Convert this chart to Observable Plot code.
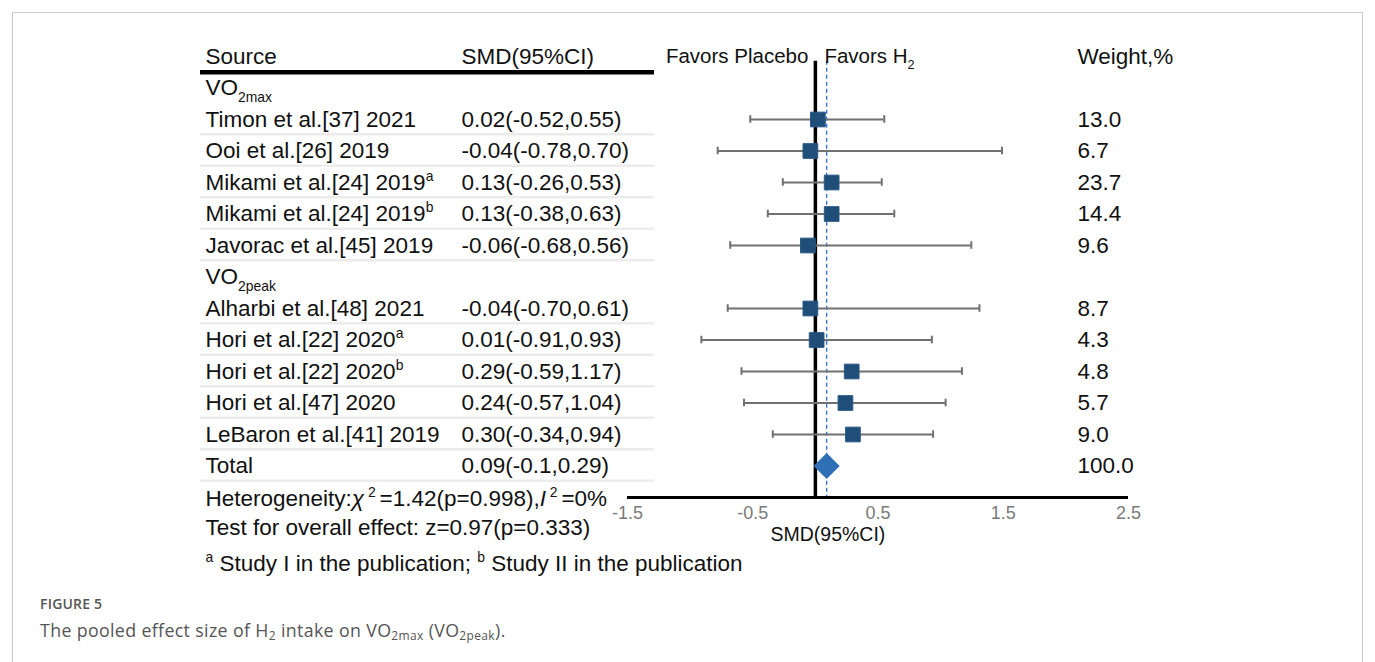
<!DOCTYPE html>
<html><head><meta charset="utf-8">
<script src="https://cdn.jsdelivr.net/npm/d3@7"></script>
<script src="https://cdn.jsdelivr.net/npm/@observablehq/plot@0.6"></script>
<style>
body{margin:0;background:#fff;width:1375px;height:662px;overflow:hidden;position:relative;font-family:"Liberation Sans",Arial,sans-serif}
#frame{position:absolute;left:12px;top:12px;width:1349px;height:700px;border:1px solid #c9c9c9;}
#chart{position:absolute;left:0;top:0}
#fig{position:absolute;left:40px;top:594px;font-family:"Open Sans";font-size:14px;font-weight:600;color:#555;letter-spacing:0.2px}
#cap{position:absolute;left:40px;top:618px;font-family:"Open Sans";font-size:17.8px;color:#555;letter-spacing:0.35px}
#cap sub{font-size:12px;vertical-align:-3px;line-height:0}
</style></head><body>
<div id="frame"></div>
<div id="chart"></div>
<div id="fig">FIGURE 5</div>
<div id="cap">The pooled effect size of H<sub>2</sub> intake on VO<sub>2max</sub> (VO<sub>2peak</sub>).</div>
<script>
// ---- data ----
const groupLabels = ["VO_{2max}", "VO_{2peak}"];
const groupOf = [0, 0, 0, 0, 0, 1, 1, 1, 1, 1];
const studies = ["Timon et al.[37] 2021", "Ooi et al.[26] 2019", "Mikami et al.[24] 2019^{a}", "Mikami et al.[24] 2019^{b}", "Javorac et al.[45] 2019",
  "Alharbi et al.[48] 2021", "Hori et al.[22] 2020^{a}", "Hori et al.[22] 2020^{b}", "Hori et al.[47] 2020", "LeBaron et al.[41] 2019"];
const smd   = [0.02, -0.04, 0.13, 0.13, -0.06, -0.04, 0.01, 0.29, 0.24, 0.30];
const lower = [-0.52, -0.78, -0.26, -0.38, -0.68, -0.70, -0.91, -0.59, -0.57, -0.34];
const upper = [0.55, 0.70, 0.53, 0.63, 0.56, 0.61, 0.93, 1.17, 1.04, 0.94];
// right whisker ends as drawn in the figure
const drawnUpper = [0.55, 1.49, 0.53, 0.63, 1.245, 1.31, 0.93, 1.17, 1.04, 0.94];
const weights = [13.0, 6.7, 23.7, 14.4, 9.6, 8.7, 4.3, 4.8, 5.7, 9.0];
const totalSmd = 0.09, totalLabel = "0.09(-0.1,0.29)", totalWeight = 100.0;
const heterogeneity = "Heterogeneity:*χ*^{ 2 }=1.42(p=0.998),*I*^{ 2 }=0%";
const overall = "Test for overall effect: z=0.97(p=0.333)";
const footnote = "^{a} Study I in the publication; ^{b} Study II in the publication";
const headers = ["Source", "SMD(95%CI)", "Weight,%"];
const favors = ["Favors Placebo", "Favors H_{2}"];
const xTicks = [-1.5, -0.5, 0.5, 1.5, 2.5];
const xLabel = "SMD(95%CI)";

// ---- layout ----
const W = 1375, H = 590;
const X0 = 627, X1 = 1128;
const pxToX = px => -1.5 + (px - X0) * 4 / (X1 - X0);
const colSource = pxToX(205), colSmd = pxToX(461), colWeight = pxToX(1077);
const tableL = pxToX(200), tableR = pxToX(654);

// build rows
const rows = [];
let r = 1;
groupLabels.forEach((g, gi) => {
  rows.push({row: r++, type: "group", source: g});
  studies.forEach((s, i) => {
    if (groupOf[i] !== gi) return;
    rows.push({row: r++, type: "study", source: s, smd: smd[i], lo: lower[i], hi: drawnUpper[i],
      ci: `${smd[i].toFixed(2)}(${lower[i].toFixed(2)},${upper[i].toFixed(2)})`, w: weights[i].toFixed(1)});
  });
});
const totalRow = {row: r, type: "total", source: "Total", smd: totalSmd, ci: totalLabel, w: totalWeight.toFixed(1)};
rows.push(totalRow);
const studyRows = rows.filter(d => d.type === "study");
const sepRows = rows.filter(d => d.type !== "group");
const axisRow = totalRow.row + 1;

const font = '"Liberation Sans", Arial, sans-serif';
const fs = 22.5;

const plot = Plot.plot({
  width: W, height: H,
  marginLeft: X0, marginRight: W - X1, marginTop: 56, marginBottom: 30,
  x: {domain: [-1.5, 2.5], axis: null},
  y: {domain: [0, 16], reverse: true, axis: null},
  style: {fontFamily: font, background: "transparent", overflow: "visible"},
  marks: [
    // faint row separators
    Plot.ruleY(sepRows, {y: d => d.row + 0.47, x1: tableL, x2: tableR, stroke: "#ececec", strokeWidth: 2.5}),
    // header underline
    Plot.ruleY([0.5], {x1: tableL, x2: tableR, stroke: "#000", strokeWidth: 4.5}),
    // zero line
    Plot.ruleX([0], {y1: 0.15, y2: axisRow, stroke: "#000", strokeWidth: 3.5}),
    // pooled dashed line
    Plot.ruleX([totalSmd], {y1: 0.15, y2: axisRow, stroke: "#3574d4", strokeWidth: 1.4, strokeDasharray: "4,3"}),
    // axis line
    Plot.ruleY([axisRow], {x1: -1.5, x2: 2.5, stroke: "#000", strokeWidth: 3}),
    // whiskers
    Plot.ruleY(studyRows, {y: "row", x1: "lo", x2: "hi", stroke: "#717171", strokeWidth: 2}),
    Plot.ruleX(studyRows, {x: "lo", y1: d => d.row - 0.12, y2: d => d.row + 0.12, stroke: "#717171", strokeWidth: 2}),
    Plot.ruleX(studyRows, {x: "hi", y1: d => d.row - 0.12, y2: d => d.row + 0.12, stroke: "#717171", strokeWidth: 2}),
    // squares
    Plot.dot(studyRows, {x: "smd", y: "row", symbol: "square", r: 8.3, fill: "#1f4e79", stroke: "#2c5987", strokeWidth: 1}),
    // total diamond
    Plot.dot([totalRow], {x: "smd", y: "row", symbol: "diamond2", r: 10.8, fill: "#2f6fb6", stroke: "#2f6fb6"}),
    // header texts
    Plot.text([headers[0]], {x: colSource, y: 0, text: d => d, textAnchor: "start", fontSize: fs, fill: "#111"}),
    Plot.text([headers[1]], {x: colSmd, y: 0, text: d => d, textAnchor: "start", fontSize: fs, fill: "#111"}),
    Plot.text([headers[2]], {x: colWeight, y: 0, text: d => d, textAnchor: "start", fontSize: fs, fill: "#111"}),
    Plot.text([favors[0]], {x: 0, y: 0, dx: -7, text: d => d, textAnchor: "end", fontSize: 20.5, fill: "#111"}),
    Plot.text([favors[1]], {x: 0, y: 0, dx: 9, text: d => d, textAnchor: "start", fontSize: 20.5, fill: "#111"}),
    // table columns
    Plot.text(rows, {x: colSource, y: "row", text: "source", textAnchor: "start", fontSize: fs, fill: "#111"}),
    Plot.text(rows.filter(d => d.ci), {x: colSmd, y: "row", text: "ci", textAnchor: "start", fontSize: fs, fill: "#111"}),
    Plot.text(rows.filter(d => d.w), {x: colWeight, y: "row", text: "w", textAnchor: "start", fontSize: fs, fill: "#111"}),
    // stats lines
    Plot.text([heterogeneity], {x: colSource, y: axisRow + 0.03, text: d => d, textAnchor: "start", fontSize: fs, fill: "#111"}),
    Plot.text([overall], {x: colSource, y: axisRow + 0.95, text: d => d, textAnchor: "start", fontSize: fs, fill: "#111"}),
    Plot.text([footnote], {x: colSource, y: axisRow + 2.1, text: d => d, textAnchor: "start", fontSize: fs, fill: "#111"}),
    // tick labels
    Plot.text(xTicks, {x: d => d, y: axisRow + 0.5, text: d => String(d), fontSize: 18, fill: "#7a7a7a"}),
    Plot.text([xLabel], {x: 0.1, y: axisRow + 1.17, text: d => d, fontSize: 19.5, fill: "#111"})
  ]
});
document.getElementById("chart").appendChild(plot);

// rich text: _{sub}, ^{sup}, *italic*
const NS = "http://www.w3.org/2000/svg";
plot.querySelectorAll("text").forEach(t => {
  const s = t.textContent;
  if (!/(_\{|\^\{|\*)/.test(s)) return;
  const f = parseFloat(getComputedStyle(t).fontSize) || fs;
  let base = 0;
  const dyA = t.getAttribute("dy");
  if (dyA) { base = dyA.endsWith("em") ? parseFloat(dyA) * f : parseFloat(dyA); t.removeAttribute("dy"); }
  const parts = s.split(/(_\{[^}]*\}|\^\{[^}]*\}|\*[^*]+\*)/).filter(p => p);
  while (t.firstChild) t.removeChild(t.firstChild);
  let off = 0, first = true;
  for (const p of parts) {
    const ts = document.createElementNS(NS, "tspan");
    let d = 0, txt = p;
    if (p.startsWith("_{")) { txt = p.slice(2, -1); d = 0.3 * f; ts.setAttribute("font-size", (0.62 * f).toFixed(1)); }
    else if (p.startsWith("^{")) { txt = p.slice(2, -1); d = -0.4 * f; ts.setAttribute("font-size", (0.62 * f).toFixed(1)); }
    else if (p.startsWith("*")) { txt = p.slice(1, -1); ts.setAttribute("font-style", "italic"); }
    ts.textContent = txt;
    ts.setAttribute("xml:space", "preserve");
    const dy = (first ? base : 0) + d - off;
    if (dy !== 0) ts.setAttribute("dy", dy.toFixed(2));
    off = d; first = false;
    t.appendChild(ts);
  }
  t.style.whiteSpace = "pre";
});
</script>
</body></html>
